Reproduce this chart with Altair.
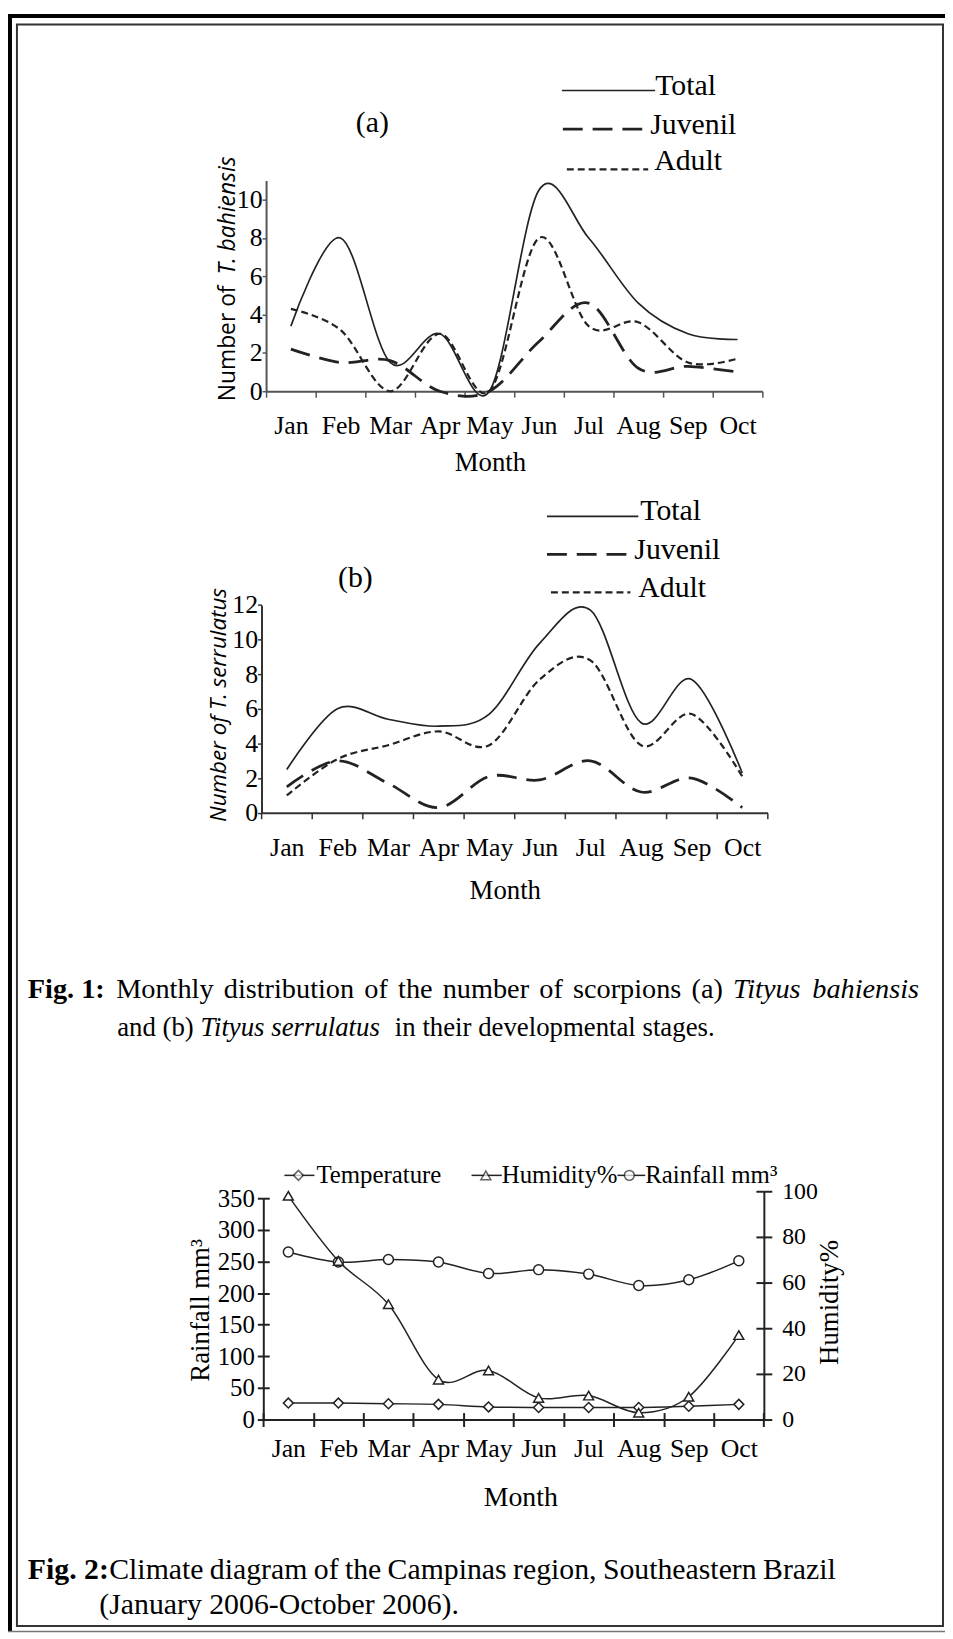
import altair as alt
import pandas as pd

# ---------------- data ----------------
months = ["Jan", "Feb", "Mar", "Apr", "May", "Jun", "Jul", "Aug", "Sep", "Oct"]
stages = ["Total", "Juvenil", "Adult"]

# Fig. 1 (a) Tityus bahiensis
bah_total = [3.4, 8.0, 1.5, 3.0, 0.0, 10.5, 8.0, 4.6, 3.0, 2.7]
bah_juvenil = [2.2, 1.5, 1.6, 0.0, 0.0, 2.6, 4.6, 1.2, 1.3, 1.0]
bah_adult = [4.3, 3.2, 0.0, 3.0, 0.0, 8.0, 3.4, 3.6, 1.5, 1.7]
bah_ticks = [0, 2, 4, 6, 8, 10]

# Fig. 1 (b) Tityus serrulatus
ser_total = [2.5, 6.0, 5.4, 5.0, 5.7, 9.8, 11.7, 5.2, 7.7, 2.3]
ser_juvenil = [1.5, 3.0, 1.7, 0.3, 2.1, 1.9, 3.0, 1.2, 2.0, 0.3]
ser_adult = [1.0, 3.1, 3.9, 4.7, 3.9, 7.7, 8.8, 3.9, 5.7, 2.1]
ser_ticks = [0, 2, 4, 6, 8, 10, 12]

# Fig. 2 climate
temperature = [26, 26, 25, 24, 20, 19, 19, 19, 21, 24]
humidity = [98, 69.5, 50.5, 17.5, 21.5, 9.5, 10.5, 3, 10, 37]
rainfall = [265, 249, 253, 249, 231, 237, 230, 212, 221, 251]
left_ticks = [0, 50, 100, 150, 200, 250, 300, 350]
right_ticks = [0, 20, 40, 60, 80, 100]

# ---------------- layout ----------------
W, H = 944, 1631
SERIF = "Liberation Serif"
SANS = "Open Sans"
INK = "#222222"
CAP1, CAP1B, CAP2 = 28.5, 27, 30

AX0, AX1, AY0, AYTOP = 260, 760, 380, 167.7
BX0, BX1, BY0, BYTOP = 255.4, 765.2, 804.7, 595.3
CX0, CX1, CY0, CYL, CYR = 257.2, 761.5, 1416, 1193, 1186


def one():
    return pd.DataFrame({"t": [0]})


def txt(s, x, y, size, font=SERIF, style="normal", weight="normal", align="left", angle=0):
    kw = dict(align=align, baseline="middle", font=font, fontSize=size,
              fontStyle=style, fontWeight=weight, color="black")
    if angle:
        kw["angle"] = angle
    return alt.Chart(pd.DataFrame({"t": [s]})).mark_text(**kw).encode(
        x=alt.value(x), y=alt.value(y), text="t:N")


def hline(x1, x2, y, color=INK, **kw):
    kw.setdefault("strokeWidth", 1.6)
    return alt.Chart(one()).mark_rule(color=color, **kw).encode(
        x=alt.value(x1), x2=alt.value(x2), y=alt.value(y))


def rect(x1, x2, y1, y2, **kw):
    return alt.Chart(one()).mark_rect(**kw).encode(
        x=alt.value(x1), x2=alt.value(x2), y=alt.value(y1), y2=alt.value(y2))


def marker(x, y, shape):
    return alt.Chart(one()).mark_point(
        shape=shape, size=100, filled=True, fill="white", stroke=INK, strokeWidth=1.5
    ).encode(x=alt.value(x), y=alt.value(y))


STYLE = {
    "Total": dict(strokeWidth=1.7),
    "Juvenil": dict(strokeWidth=2.8, strokeDash=[20, 10]),
    "Adult": dict(strokeWidth=2.2, strokeDash=[7, 4]),
}


def stage_panel(vals, x0, x1, y0, ytop, ymax, yticks, axcol):
    out = []
    for i, (stage, v) in enumerate(zip(stages, vals)):
        df = pd.DataFrame({"month": months, "count": v})
        xs = alt.Scale(type="band", domain=months, range=[x0, x1], paddingInner=0, paddingOuter=0)
        ys = alt.Scale(domain=[0, ymax], range=[y0, ytop], nice=False)
        if i == 0:
            xa = alt.Axis(orient="bottom", offset=y0 - H, title=None, tickBand="extent",
                          tickSize=6, tickWidth=1.5, tickColor=axcol, domainColor=axcol,
                          domainWidth=2, labelFontSize=26, labelBaseline="middle",
                          labelPadding=29, labelAngle=0)
            ya = alt.Axis(orient="left", offset=-x0, title=None, values=yticks, tickSize=4,
                          tickWidth=1.5, tickColor=axcol, domainColor=axcol, domainWidth=2,
                          labelFontSize=26, labelPadding=0, labelOverlap=False)
        else:
            xa = None
            ya = None
        out.append(
            alt.Chart(df).mark_line(interpolate="cardinal", color=INK, **STYLE[stage]).encode(
                x=alt.X("month:N", sort=months, scale=xs, axis=xa),
                y=alt.Y("count:Q", scale=ys, axis=ya),
            )
        )
    return out


# --------- caption helpers ---------
REG = {" ": 250, "(": 333, ")": 333, ",": 250, "-": 333, ".": 250, ":": 278,
       "A": 722, "B": 667, "C": 667, "M": 889, "O": 722, "S": 556, "T": 611, "J": 389,
       "a": 444, "b": 500, "c": 444, "d": 500, "e": 444, "f": 333, "g": 500, "h": 500,
       "i": 278, "l": 278, "m": 778, "n": 500, "o": 500, "p": 500, "r": 333, "s": 389,
       "t": 278, "u": 500, "v": 500, "y": 500, "z": 444}
ITA = {"T": 556, "i": 278, "t": 278, "y": 444, "u": 500, "s": 389, "b": 500, "a": 500,
       "h": 500, "e": 444, "n": 500, "r": 389, "l": 278, " ": 250}


def wwidth(w, italic, size):
    table = ITA if italic else REG
    return sum(table.get(c, 500) for c in w) * size / 1000.0


def justified(words, x0, x1, y, size):
    widths = [wwidth(w, it, size) for w, it in words]
    gap = (x1 - x0 - sum(widths)) / (len(words) - 1)
    out, x = [], x0
    for (w, it), wd in zip(words, widths):
        out.append(txt(w, x, y, size, style="italic" if it else "normal"))
        x += wd + gap
    return out


layers = []

# frame
layers += [
    rect(0, 4, 0, 1629, color="black"),
    rect(0, W, 0, 4, color="black"),
    rect(9, 942, 10.5, 1624, fillOpacity=0, stroke="#333333", strokeWidth=2),
    hline(0, W, 1629.5, color="#777777", strokeWidth=1.5),
]

# ---- Fig 1 (a)
layers += stage_panel([bah_total, bah_juvenil, bah_adult], AX0, AX1, AY0, AYTOP, 11, bah_ticks, "#555555")
layers += [
    txt("Number of", 221.5, 390, 23, font=SANS, angle=270),
    txt("T. bahiensis", 221.5, 143.5, 23, font=SANS, style="italic", align="right", angle=270),
    txt("Month", 486, 452, 27, align="center"),
    txt("(a)", 367, 110, 30, align="center"),
    hline(558, 652, 77, **STYLE["Total"]),
    txt("Total", 652, 73, 30),
    hline(559, 649, 116, **STYLE["Juvenil"]),
    txt("Juvenil", 647, 112, 30),
    hline(563, 645, 156.5, **STYLE["Adult"]),
    txt("Adult", 651, 148.5, 30),
]

# ---- Fig 1 (b)
layers += stage_panel([ser_total, ser_juvenil, ser_adult], BX0, BX1, BY0, BYTOP, 12, ser_ticks, "#333333")
layers += [
    txt("Number of T. serrulatus", 213, 814, 22.5, font=SANS, style="italic", angle=270),
    txt("Month", 501, 883.7, 27, align="center"),
    txt("(b)", 350, 568.7, 30, align="center"),
    hline(543, 635, 506, **STYLE["Total"]),
    txt("Total", 637, 501, 30),
    hline(543, 631, 544.3, **STYLE["Juvenil"]),
    txt("Juvenil", 631, 540, 30),
    hline(547, 627, 582.7, **STYLE["Adult"]),
    txt("Adult", 635, 578.7, 30),
]

# ---- Fig 1 caption
layers.append(txt("Fig. 1:", 20, 982, CAP1, weight="bold"))
layers += justified(
    [("Monthly", 0), ("distribution", 0), ("of", 0), ("the", 0), ("number", 0), ("of", 0),
     ("scorpions", 0), ("(a)", 0), ("Tityus", 1), ("bahiensis", 1)],
    109, 918, 982, CAP1)
x = 110
layers.append(txt("and (b)", x, 1022, CAP1B))
x += wwidth("and (b) ", 0, CAP1B)
layers.append(txt("Tityus serrulatus", x, 1022, CAP1B, style="italic"))
x += wwidth("Tityus serrulatus", 1, CAP1B) + wwidth("  ", 0, CAP1B)
layers.append(txt("in their developmental stages.", x, 1022, CAP1B))

# ---- Fig 2
clim_x = alt.Scale(type="band", domain=months, range=[CX0, CX1], paddingInner=0, paddingOuter=0)
left_y = alt.Scale(domain=[0, 350], range=[CY0, CYL], nice=False)
right_y = alt.Scale(domain=[0, 100], range=[CY0, CYR], nice=False)


def clim_layer(vals, shape, yscale, xaxis, yaxis, opacity=1.0):
    df = pd.DataFrame({"month": months, "value": vals})
    return alt.Chart(df).mark_line(
        interpolate="cardinal", color=INK, strokeWidth=1.5, opacity=opacity,
        point=alt.OverlayMarkDef(shape=shape, size=100, filled=True, fill="white",
                                 stroke=INK, strokeWidth=1.5, opacity=opacity),
    ).encode(
        x=alt.X("month:N", sort=months, scale=clim_x, axis=xaxis),
        y=alt.Y("value:Q", scale=yscale, axis=yaxis),
    )


x_main = alt.Axis(orient="bottom", offset=CY0 - H, title=None, tickBand="extent", tickSize=7,
                  tickWidth=2, tickColor=INK, domainColor=INK, domainWidth=2, labelFontSize=26,
                  labelBaseline="middle", labelPadding=22, labelAngle=0)
x_in = alt.Axis(orient="bottom", offset=CY0 - 7 - H, title=None, tickBand="extent", tickSize=7,
                tickWidth=2, tickColor=INK, domain=False, labels=False)
yl_main = alt.Axis(orient="left", offset=-CX0, title=None, values=left_ticks, tickSize=6,
                   tickWidth=2, tickColor=INK, domainColor=INK, domainWidth=2, labelFontSize=25,
                   labelPadding=3, labelOverlap=False)
yl_in = alt.Axis(orient="left", offset=-(CX0 + 6), title=None, values=left_ticks, tickSize=6,
                 tickWidth=2, tickColor=INK, domain=False, labels=False)
yr_main = alt.Axis(orient="right", offset=CX1 - W, title=None, values=right_ticks, tickSize=8,
                   tickWidth=2, tickColor=INK, domainColor=INK, domainWidth=2, labelFontSize=24,
                   labelPadding=10, labelOverlap=False)
yr_in = alt.Axis(orient="right", offset=CX1 - 8 - W, title=None, values=right_ticks, tickSize=8,
                 tickWidth=2, tickColor=INK, domain=False, labels=False)

layers += [
    clim_layer(rainfall, "circle", left_y, x_main, yl_main),
    clim_layer(temperature, "diamond", left_y, x_in, yl_in),
    clim_layer(humidity, "triangle-up", right_y, None, yr_main),
    clim_layer(humidity, "triangle-up", right_y, None, yr_in, opacity=0),
]
layers += [
    hline(278.5, 308.7, 1170, strokeWidth=1.5),
    marker(292.6, 1170, "diamond"),
    txt("Temperature", 310.7, 1170, 25),
    hline(467, 497.5, 1170, strokeWidth=1.5),
    marker(481.4, 1170, "triangle-up"),
    txt("Humidity%", 497.5, 1170, 25),
    hline(614, 642, 1170, strokeWidth=1.5),
    marker(626, 1170, "circle"),
    txt("Rainfall mm³", 642, 1170, 25),
    txt("Rainfall mm³", 195, 1306, 27, align="center", angle=270),
    txt("Humidity%", 828, 1298, 27, align="center", angle=270),
    txt("Month", 516.6, 1494.7, 28, align="center"),
]

# ---- Fig 2 caption
layers.append(txt("Fig. 2:", 20, 1568, CAP2, weight="bold"))
layers += justified(
    [("Climate", 0), ("diagram", 0), ("of", 0), ("the", 0), ("Campinas", 0), ("region,", 0),
     ("Southeastern", 0), ("Brazil", 0)],
    102, 834, 1568, CAP2)
layers.append(txt("(January 2006-October 2006).", 92, 1603, CAP2))

chart = (
    alt.layer(*layers)
    .resolve_scale(x="independent", y="independent")
    .properties(width=W, height=H, padding=0, autosize=alt.AutoSizeParams(type="none"))
    .configure_view(stroke=None)
    .configure_axis(grid=False, labelColor="black", labelFont=SERIF)
)

chart.save("out.html", embed_options={"renderer": "svg", "actions": False})
